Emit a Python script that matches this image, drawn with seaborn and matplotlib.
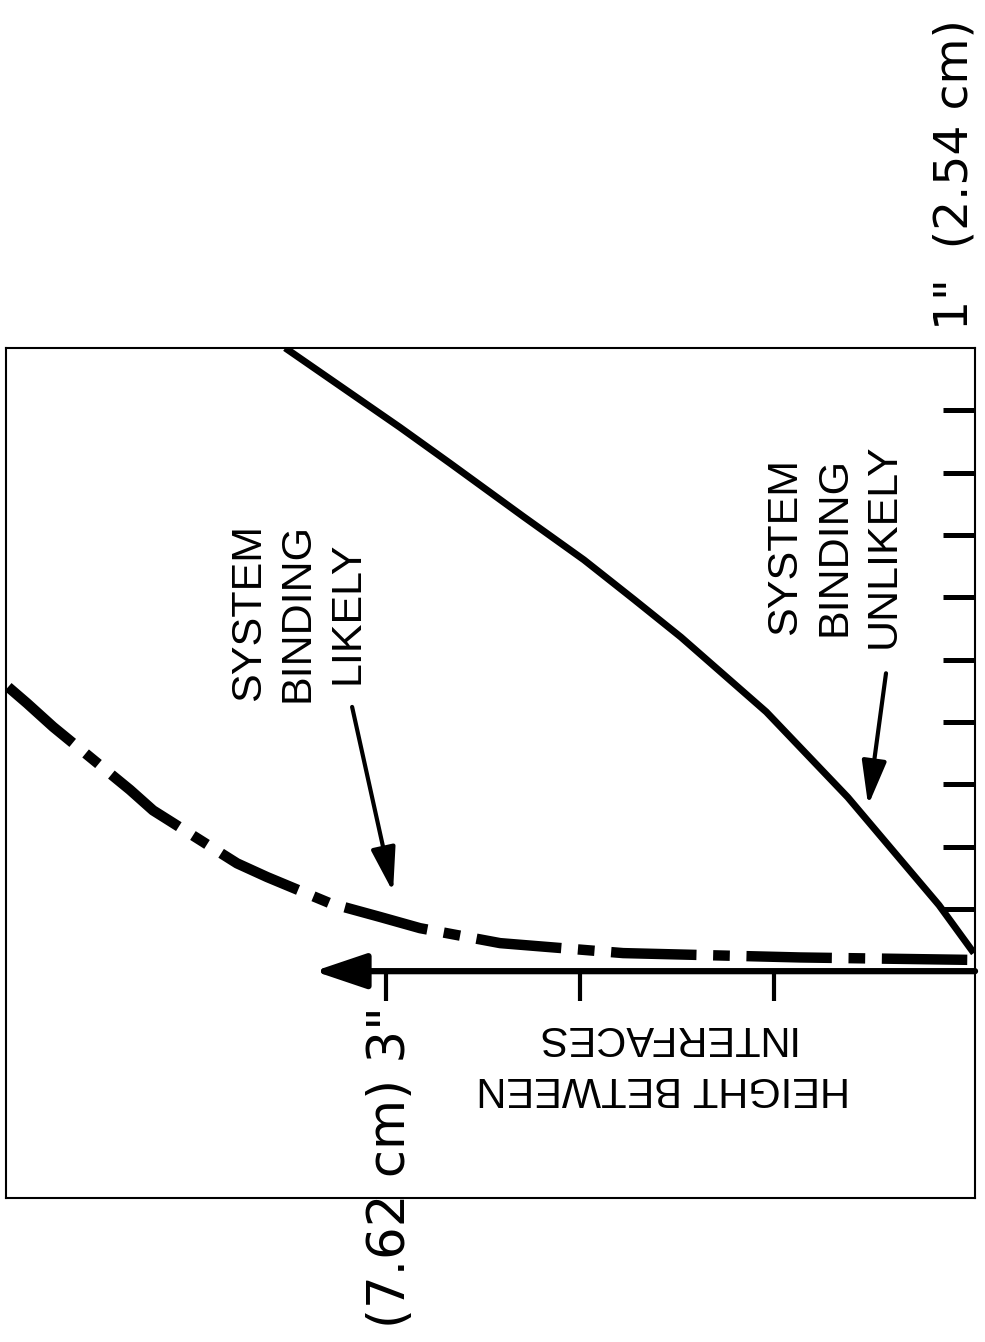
import numpy as np
import pandas as pd
import seaborn as sns
from matplotlib import pyplot as plt

# Boundary curves (x = height between interfaces in inches, y = vertical scale in inches)
unlikely_x = [3.52, 2.93, 2.67, 2.29, 1.98, 1.72, 1.48, 1.04, 0.62, 0.15, -0.03]
unlikely_y = [1.0, 0.873, 0.815, 0.729, 0.660, 0.596, 0.536, 0.416, 0.279, 0.106, 0.029]

likely_x = [4.948, 4.851, 4.716, 4.320, 4.201, 3.768, 3.613, 3.289, 3.031, 2.825,
            2.412, 1.778, 0.866, -0.036]
likely_y = [0.456, 0.430, 0.392, 0.291, 0.258, 0.173, 0.151, 0.109, 0.087, 0.069,
            0.045, 0.029, 0.022, 0.018]

# Scale marks
axis_ticks = [1, 2, 3]
side_ticks = [0.1, 0.2, 0.3, 0.4, 0.5, 0.6, 0.7, 0.8, 0.9]

label_likely = "SYSTEM\nBINDING\nLIKELY"
label_unlikely = "SYSTEM\nBINDING\nUNLIKELY"
label_axis = "HEIGHT BETWEEN\nINTERFACES"
label_3in = '(7.62 cm) 3"'
label_1in = '1"  (2.54 cm)'

sns.set_theme(style="white")
plt.rcParams["font.family"] = ["DejaVu Sans"]
plt.rcParams["text.color"] = "black"

fig = plt.figure(figsize=(9.85, 13.42), dpi=100)
ax = fig.add_axes([0.0061, 0.1073, 0.9838, 0.6334])

unlikely = pd.DataFrame({"x": unlikely_x, "y": unlikely_y})
likely = pd.DataFrame({"x": likely_x, "y": likely_y})

sns.lineplot(data=unlikely, x="x", y="y", sort=False, color="black", lw=5,
             solid_capstyle="butt", solid_joinstyle="round", ax=ax)
sns.lineplot(data=likely, x="x", y="y", sort=False, color="black", lw=7.5,
             linestyle=(0, (8.2, 1.6, 1.6, 1.6)), dash_capstyle="butt", ax=ax)

# horizontal axis with arrow and tick marks
ax.annotate("", xy=(3.37, 0), xytext=(-0.036, 0),
            arrowprops=dict(arrowstyle="-|>,head_length=0.8,head_width=0.27",
                            lw=4.5, color="black", mutation_scale=40,
                            shrinkA=0, shrinkB=0))
ax.vlines(axis_ticks, ymin=-0.048, ymax=0, color="black", lw=3)
ax.hlines(side_ticks, xmin=-0.036, xmax=0.13, color="black", lw=3.6)

# pointer arrows
ax.annotate("", xy=(2.964, 0.127), xytext=(3.175, 0.424),
            arrowprops=dict(arrowstyle="-|>,head_length=0.9,head_width=0.25",
                            lw=3, color="black", mutation_scale=30,
                            shrinkA=0, shrinkB=0))
ax.annotate("", xy=(0.515, 0.266), xytext=(0.423, 0.478),
            arrowprops=dict(arrowstyle="-|>,head_length=0.9,head_width=0.25",
                            lw=3, color="black", mutation_scale=30,
                            shrinkA=0, shrinkB=0))

# labels
ax.text(3.454, 0.575, label_likely, rotation=90, ha="center", va="center",
        multialignment="center", fontsize=31, family="Liberation Sans",
        linespacing=1.3)
ax.text(0.691, 0.682, label_unlikely, rotation=90, ha="center", va="center",
        multialignment="center", fontsize=31, family="Liberation Sans",
        linespacing=1.3)
ax.text(1.572, -0.146, label_axis, rotation=180, ha="center", va="center",
        multialignment="center", fontsize=30, family="Liberation Sans",
        linespacing=1.35)
ax.text(2.975, -0.314, label_3in, rotation=90, ha="center", va="center",
        fontsize=37)
ax.text(0.067, 1.278, label_1in, rotation=90, ha="center", va="center",
        fontsize=34)

ax.set_xlim(4.959, -0.036)
ax.set_ylim(-0.364, 1.0)
ax.set_xticks([])
ax.set_yticks([])
ax.set_xlabel("")
ax.set_ylabel("")
for side in ax.spines.values():
    side.set_color("black")
    side.set_linewidth(1.5)

fig.savefig("out.png", dpi=100)
